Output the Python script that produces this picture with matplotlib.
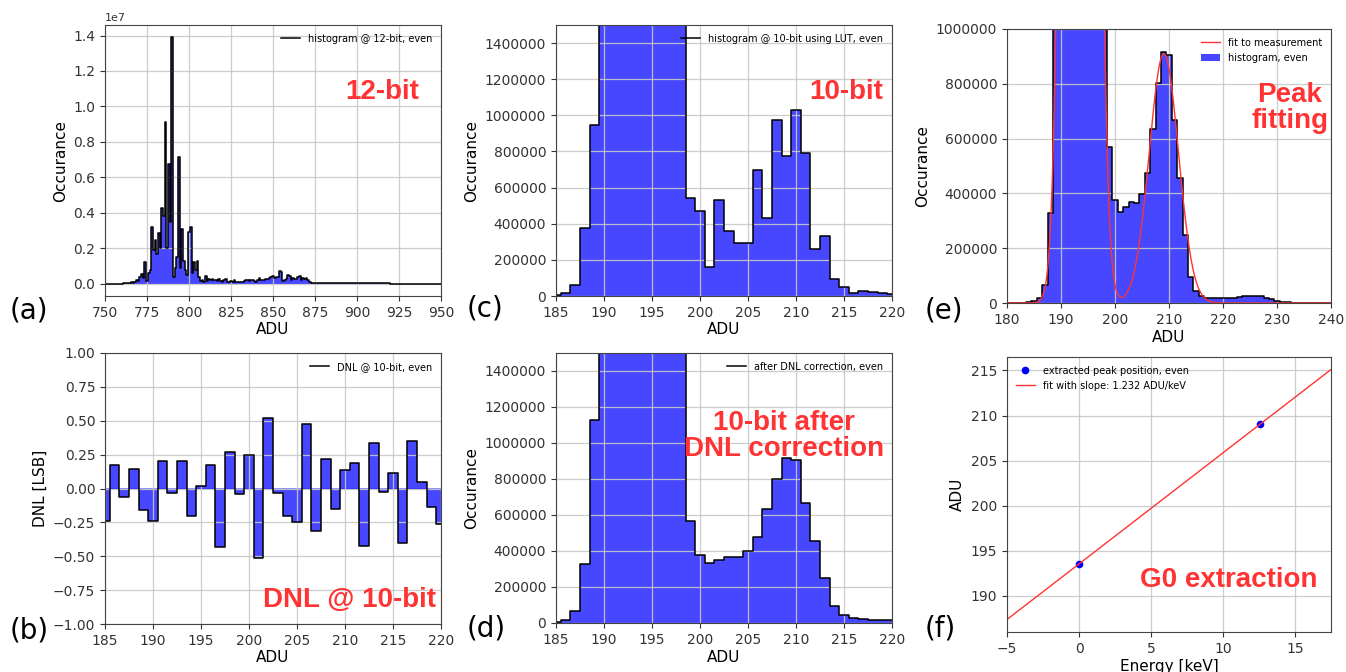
import numpy as np
import matplotlib as mpl
mpl.use('Agg')
from matplotlib import pyplot as plt

# Data

# 12-bit histogram, one bin per ADU from 750 to 950, counts in units of 1e6
adu_12bit = np.arange(750, 951)
counts_12bit = [
	0.01, 0.01, 0.01, 0.01, 0.01, 0.01, 0.01, 0.01, 0.01, 0.01,
	0.01, 0.02, 0.02, 0.03, 0.03, 0.05, 0.12, 0.06, 0.10, 0.20,
	0.15, 0.35, 0.55, 0.30, 1.20, 0.15, 0.60, 0.80, 3.20, 1.90,
	2.45, 1.70, 2.85, 2.00, 4.25, 3.80, 9.10, 2.00, 6.75, 3.50,
	13.90, 0.40, 0.90, 1.50, 7.15, 0.90, 3.10, 1.30, 0.80, 0.50,
	2.90, 3.20, 0.60, 1.20, 0.80, 1.30, 0.40, 0.15, 0.20, 0.10,
	0.45, 0.15, 0.25, 0.20, 0.25, 0.20, 0.20, 0.15, 0.25, 0.15,
	0.10, 0.20, 0.25, 0.10, 0.10, 0.15, 0.10, 0.20, 0.12, 0.10,
	0.10, 0.08, 0.10, 0.15, 0.18, 0.20, 0.15, 0.18, 0.22, 0.15,
	0.12, 0.20, 0.30, 0.18, 0.22, 0.20, 0.25, 0.28, 0.30, 0.35,
	0.45, 0.30, 0.40, 0.35, 0.72, 0.65, 0.15, 0.20, 0.25, 0.50,
	0.42, 0.20, 0.30, 0.25, 0.25, 0.38, 0.45, 0.20, 0.30, 0.25,
	0.30, 0.20, 0.08, 0.06, 0.05, 0.05, 0.04, 0.04, 0.04, 0.04,
	0.03, 0.03, 0.03, 0.03, 0.03, 0.03, 0.03, 0.03, 0.03, 0.03,
	0.02, 0.02, 0.02, 0.02, 0.02, 0.02, 0.02, 0.02, 0.02, 0.02,
	0.02, 0.02, 0.02, 0.02, 0.02, 0.02, 0.02, 0.02, 0.02, 0.02,
	0.02, 0.02, 0.02, 0.02, 0.02, 0.02, 0.02, 0.02, 0.02, 0.02,
	0.01, 0.01, 0.01, 0.01, 0.01, 0.01, 0.01, 0.01, 0.01, 0.01,
	0.01, 0.01, 0.01, 0.01, 0.01, 0.01, 0.01, 0.01, 0.01, 0.01,
	0.01, 0.01, 0.01, 0.01, 0.01, 0.01, 0.01, 0.01, 0.01, 0.01,
	0.01,
]

# 10-bit histogram using the LUT, ADU 185..220
adu_10bit = np.arange(185, 221)
counts_lut = [
	5500, 18000, 61000, 377000, 946000,
	3.0e6, 8.2e6, 11.0e6, 16.5e6, 14.6e6, 13.5e6, 7.2e6, 4.5e6, 1.6e6,
	543000, 469000, 163000, 532000, 358000, 292000, 296000, 696000,
	432000, 973000, 774000, 1029000, 791000, 260000, 332000, 94000,
	52000, 17000, 30000, 20000, 17000, 13000,
]

# DNL per 10-bit code, ADU 185..220
dnl = [
	-0.24, 0.175, -0.06, 0.143, -0.158, -0.239, 0.20, -0.034, 0.204, -0.202,
	0.015, 0.175, -0.433, 0.266, -0.039, 0.244, -0.51, 0.517, -0.032, -0.20,
	-0.249, 0.475, -0.313, 0.219, -0.15, 0.14, 0.19, -0.421, 0.333, -0.025,
	0.113, -0.401, 0.35, 0.049, -0.133, -0.26,
]

# 10-bit histogram after DNL correction, ADU 180..240
adu_corr = np.arange(180, 241)
counts_corr = [
	0, 200, 500, 1000, 2500,
	7400, 18500, 65000, 328000, 1128000,
	3.2e6, 7.5e6, 12.0e6, 15.5e6, 15.8e6, 12.8e6, 8.0e6, 4.0e6, 1.8e6,
	568000, 376000, 333000, 352000, 368000, 365000, 398000, 476000,
	635000, 802000, 915000, 906000, 667000, 457000, 250000, 96000,
	44000, 26000, 20000, 18500, 18500, 18500,
	19000, 20000, 22000, 25000, 27000, 27000, 25000, 20000, 14000, 8000,
	4000, 2000, 1000, 500, 300, 200, 100, 100, 0, 0,
]

# peak positions and gain fit
energy_kev = [0.0, 12.54]
peak_adu = [193.55, 209.05]
slope = 1.232

# double gaussian fit to the corrected histogram
fit_amp = [1.5e7, 9.1e5]
fit_sigma = [1.95, 2.7]


# Style
plt.rcParams.update({
	'font.family': 'DejaVu Sans',
	'font.size': 10,
	'axes.edgecolor': '#444444',
	'axes.labelsize': 11,
	'xtick.color': '#333333',
	'ytick.color': '#333333',
	'legend.fontsize': 7,
})

BLUE = 'b'
RED = '#ff3333'
W, H = 1346., 672.


def hist(ax, x, y, label=None, fill_label=None):
	ax.fill_between(x, y, step='mid', color=BLUE, alpha=0.72, lw=0, label=fill_label)
	ax.step(x, y, where='mid', color='k', lw=1.1, label=label)


def style(ax, xlabel='ADU', ylabel='Occurance'):
	# grid between the filled area and the lines
	ax.set_axisbelow('line')
	ax.grid(True, color='#c8c8c8', lw=0.9, alpha=0.9)
	ax.set_xlabel(xlabel, labelpad=2)
	ax.set_ylabel(ylabel)


def box(left, top, right, bottom):
	return [left/W, 1-bottom/H, (right-left)/W, (bottom-top)/H]


def note(x, y, s):
	fig.text(x/W, 1-y/H, s, color=RED, fontsize=20, fontweight='bold',
		family='Liberation Sans', ha='center', va='center', linespacing=1.0)


fig = plt.figure(figsize=(W/100, H/100), dpi=100)

# (a) 12-bit histogram
ax = fig.add_axes(box(105, 25, 441, 296))
hist(ax, adu_12bit, np.array(counts_12bit)*1e6, label='histogram @ 12-bit, even')
ax.set_xlim(750, 950)
ax.set_xticks(np.arange(750, 951, 25))
ax.set_yticks(np.arange(0, 1.41e7, 0.2e7))
ax.yaxis.get_offset_text().set_fontsize(8)
style(ax)
ax.legend(loc='upper right', frameon=False)
note(382, 92, '12-bit')

# (b) DNL
ax = fig.add_axes(box(105, 353, 441, 624))
ax.axhline(0, color='#8c8cff', lw=1.4, zorder=0.5)
hist(ax, adu_10bit, dnl, label='DNL @ 10-bit, even')
ax.set_xlim(185, 220)
ax.set_ylim(-1, 1)
ax.set_yticks(np.arange(-1, 1.01, 0.25))
style(ax, ylabel='DNL [LSB]')
ax.legend(loc='upper right', frameon=False)
note(349, 600, 'DNL @ 10-bit')

# (c) 10-bit using LUT
ax = fig.add_axes(box(556, 25, 892, 296))
hist(ax, adu_10bit, counts_lut, label='histogram @ 10-bit using LUT, even')
ax.set_xlim(185, 220)
ax.set_ylim(0, 1.5e6)
ax.set_yticks(np.arange(0, 1.41e6, 2e5))
ax.ticklabel_format(axis='y', style='plain', useOffset=False)
style(ax)
ax.legend(loc='upper right', frameon=False)
note(846, 92, '10-bit')

# (d) after DNL correction
ax = fig.add_axes(box(556, 353, 892, 623))
sel = (adu_corr >= 185) & (adu_corr <= 220)
hist(ax, adu_corr[sel], np.array(counts_corr)[sel], label='after DNL correction, even')
ax.set_xlim(185, 220)
ax.set_ylim(0, 1.5e6)
ax.set_yticks(np.arange(0, 1.41e6, 2e5))
ax.ticklabel_format(axis='y', style='plain', useOffset=False)
style(ax)
ax.legend(loc='upper right', frameon=False)
note(784, 436, '10-bit after\nDNL correction')

# (e) peak fitting
ax = fig.add_axes(box(1007, 29, 1331, 303))
hist(ax, adu_corr, counts_corr, fill_label='histogram, even')
xf = np.linspace(180, 240, 1500)
yf = sum(a*np.exp(-(xf-m)**2/(2*s**2)) for a, m, s in zip(fit_amp, peak_adu, fit_sigma))
ax.plot(xf, yf, color=RED, lw=1.0, label='fit to measurement')
ax.set_xlim(180, 240)
ax.set_ylim(0, 1e6)
ax.ticklabel_format(axis='y', style='plain', useOffset=False)
style(ax)
h, l = ax.get_legend_handles_labels()
order = [l.index('fit to measurement'), l.index('histogram, even')]
ax.legend([h[i] for i in order], [l[i] for i in order], loc='upper right', frameon=False)
note(1290, 108, 'Peak\nfitting')

# (f) G0 extraction
ax = fig.add_axes(box(1007, 357, 1331, 632))
ax.plot(energy_kev, peak_adu, 'o', color=BLUE, ms=4.5, label='extracted peak position, even')
xl = np.array([-5, 17.5])
ax.plot(xl, peak_adu[0] + slope*xl, color=RED, lw=1.0, label='fit with slope: %.3f ADU/keV' % slope)
ax.set_xlim(-5, 17.5)
ax.set_xticks([-5, 0, 5, 10, 15])
ax.set_yticks(np.arange(190, 216, 5))
style(ax, xlabel='Energy [keV]', ylabel='ADU')
ax.legend(loc='upper left', frameon=False)
note(1229, 580, 'G0 extraction')

# panel letters
for s, x, y in [('(a)', 29, 310), ('(b)', 29, 630), ('(c)', 485, 309),
		('(d)', 486, 628), ('(e)', 944, 310), ('(f)', 940, 629)]:
	fig.text(x/W, 1-y/H, s, fontsize=20, ha='center', va='center')

fig.savefig('out.png', dpi=100)
